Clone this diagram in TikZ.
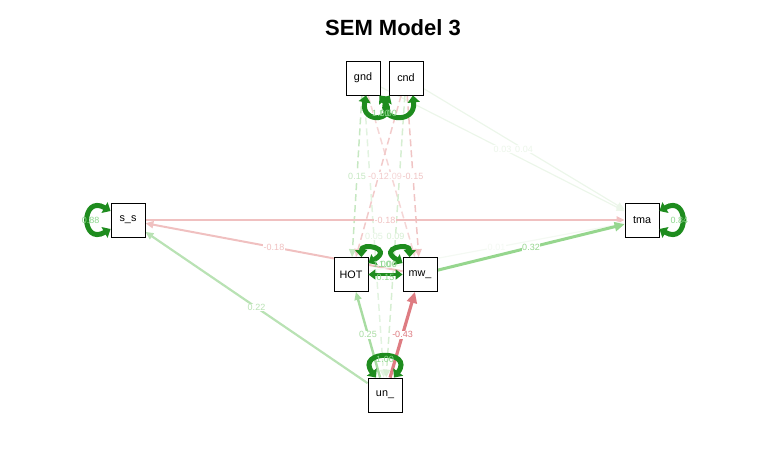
\documentclass[tikz,border=0pt]{standalone}
\usepackage{fontspec}
\setmainfont{Liberation Sans}
\usetikzlibrary{arrows.meta,calc}
\pgfdeclarelayer{bg}
\pgfsetlayers{bg,main}
\definecolor{redA}{RGB}{240,192,192}
\definecolor{grnB}{RGB}{185,226,180}
\definecolor{grnC}{RGB}{168,220,162}
\definecolor{redD}{RGB}{222,124,130}
\definecolor{grnE}{RGB}{150,214,142}
\definecolor{grnF}{RGB}{244,249,243}
\definecolor{grnG}{RGB}{236,246,234}
\definecolor{grnH}{RGB}{198,232,194}
\definecolor{redI}{RGB}{242,202,202}
\definecolor{redJ}{RGB}{245,214,214}
\definecolor{redK}{RGB}{240,196,196}
\definecolor{grnL}{RGB}{226,243,224}
\definecolor{grnM}{RGB}{214,238,210}
\definecolor{loopg}{RGB}{30,140,30}
\definecolor{loopt}{RGB}{140,214,140}
\tikzset{
  box/.style={draw=black, fill=white, minimum width=34bp, minimum height=34bp, inner sep=0pt, line width=0.8bp, font=\fontsize{10.8bp}{12bp}\selectfont},
  edg/.style={draw=#1, line width=1.6bp, -{Triangle[length=8bp,width=7bp]}},
  dedg/.style={draw=#1, line width=1.5bp, dash pattern=on 7bp off 4bp, -{Triangle[length=8bp,width=7bp]}},
  lab/.style={text=#1, fill=white, inner sep=0.6bp, font=\fontsize{9bp}{10bp}\selectfont},
  looplab/.style={text=loopt, inner sep=0.5bp, font=\fontsize{9bp}{10bp}\selectfont},
  loopst/.style={draw=loopg, line width=5bp, {Triangle[length=7bp,width=12bp]}-{Triangle[length=7bp,width=12bp]}}
}
\begin{document}
\begin{tikzpicture}[x=1bp,y=-1bp]
\useasboundingbox (0,0) rectangle (770,475);
\node[font=\fontsize{22bp}{26bp}\selectfont\bfseries] (title) at (393,28) {SEM Model 3};
\node[box] (gnd) at (363,78) {gnd};
\node[box] (cnd) at (406,78) {cnd};
\node[box] (s_s) at (128,220) {s\_s};
\node[box] (tma) at (642,220) {tma};
\node[box] (HOT) at (351,274.5) {HOT};
\node[box] (mw_) at (420,274.5) {mw\_};
\node[box] (un_) at (385,395) {un\_};
\begin{pgfonlayer}{bg}
\draw[edg=grnG, line width=1.2bp] (gnd) -- coordinate[pos=.5](m1) (tma);
\draw[edg=grnG, line width=1.2bp] (cnd) -- coordinate[pos=.5](m2) (tma);
\draw[dedg=grnH] (gnd) -- coordinate[pos=.5](m3) (HOT);
\draw[dedg=redJ] (gnd) -- coordinate[pos=.5](m4) (mw_);
\draw[dedg=redI] (cnd) -- coordinate[pos=.5](m5) (HOT);
\draw[dedg=redK] (cnd) -- coordinate[pos=.5](m6) (mw_);
\draw[dedg=grnL] (gnd) -- coordinate[pos=.5](m7) (un_);
\draw[dedg=grnM] (cnd) -- coordinate[pos=.5](m8) (un_);
\draw[edg=redA, line width=2bp] (s_s) -- coordinate[pos=.5](m9) (tma);
\draw[edg=redA, line width=2bp] (mw_) -- coordinate[pos=.5](m10) (s_s);
\draw[edg=grnF, line width=1.2bp] (HOT) -- coordinate[pos=.5](m11) (tma);
\draw[edg=grnE, line width=3bp, -{Triangle[length=10bp,width=9bp]}] (mw_) -- coordinate[pos=.5](m12) (tma);
\draw[edg=grnB, line width=2.2bp] (un_) -- coordinate[pos=.5](m13) (s_s);
\draw[edg=grnC, line width=2.4bp] (un_) -- coordinate[pos=.5](m14) (HOT);
\draw[edg=redD, line width=3.2bp, -{Triangle[length=11bp,width=10bp]}] (un_) -- coordinate[pos=.5](m15) (mw_);
\end{pgfonlayer}
% covariance
\draw[loopst, line width=3bp, {Triangle[length=7bp,width=10bp]}-{Triangle[length=7bp,width=10bp]}] (HOT) -- coordinate[pos=.5](m16) (mw_);
% self loops
\draw[loopst] ($(s_s.west)+(0,-9)$) .. controls ($(s_s.west)+(-30,-26)$) and ($(s_s.west)+(-30,26)$) .. ($(s_s.west)+(0,9)$);
\draw[loopst] ($(tma.east)+(0,-9)$) .. controls ($(tma.east)+(30,-26)$) and ($(tma.east)+(30,26)$) .. ($(tma.east)+(0,9)$);
\draw[loopst] ($(gnd.south)+(3,0)$) .. controls (360,126) and (400,120) .. ($(gnd.south east)+(-1,0)$);
\draw[loopst] ($(cnd.south west)+(1,0)$) .. controls (376,120) and (416,126) .. ($(cnd.south)+(7,0)$);
\draw[loopst] ($(HOT.north east)+(-7,0)$) .. controls (361,242) and (394,248) .. ($(HOT.north east)+(0,6)$);
\draw[loopst] ($(mw_.north west)+(7,0)$) .. controls (410,242) and (377,248) .. ($(mw_.north west)+(0,6)$);
\draw[loopst] ($(un_.north)+(-9,0)$) .. controls ($(un_.north)+(-30,-28)$) and ($(un_.north)+(30,-28)$) .. ($(un_.north)+(9,0)$);
% labels
\node[lab=grnG] (l1) at (m1) {0.03};
\node[lab=grnG] (l2) at (m2) {0.04};
\node[lab=grnH] (l3) at (m3) {0.15};
\node[lab=redJ] (l4) at (m4) {-0.09};
\node[lab=redI] (l5) at (m5) {-0.12};
\node[lab=redK] (l6) at (m6) {-0.15};
\node[lab=grnL] (l7) at (m7) {0.05};
\node[lab=grnM] (l8) at (m8) {0.09};
\node[lab=redA] (l9) at (m9) {-0.18};
\node[lab=redA] (l10) at (m10) {-0.18};
\node[lab=grnF] (l11) at (m11) {0.01};
\node[lab=grnE] (l12) at (m12) {0.32};
\node[lab=grnB] (l13) at (m13) {0.22};
\node[lab=grnC] (l14) at (m14) {0.25};
\node[lab=redD] (l15) at (m15) {-0.43};
\node[looplab] (l16) at ($(m16)+(0,3)$) {0.15};
\node[looplab] (l17) at ($(s_s.west)+(-20,0)$) {0.88};
\node[looplab] (l18) at ($(tma.east)+(20,0)$) {0.84};
\node[looplab] (l19) at (381,113) {1.00};
\node[looplab] (l20) at (388,113) {1.00};
\node[looplab] (l21) at (382,264) {1.00};
\node[looplab] (l22) at (388,264) {1.00};
\node[looplab] (l23) at ($(un_.north)+(0,-18)$) {1.00};
\end{tikzpicture}
\end{document}
